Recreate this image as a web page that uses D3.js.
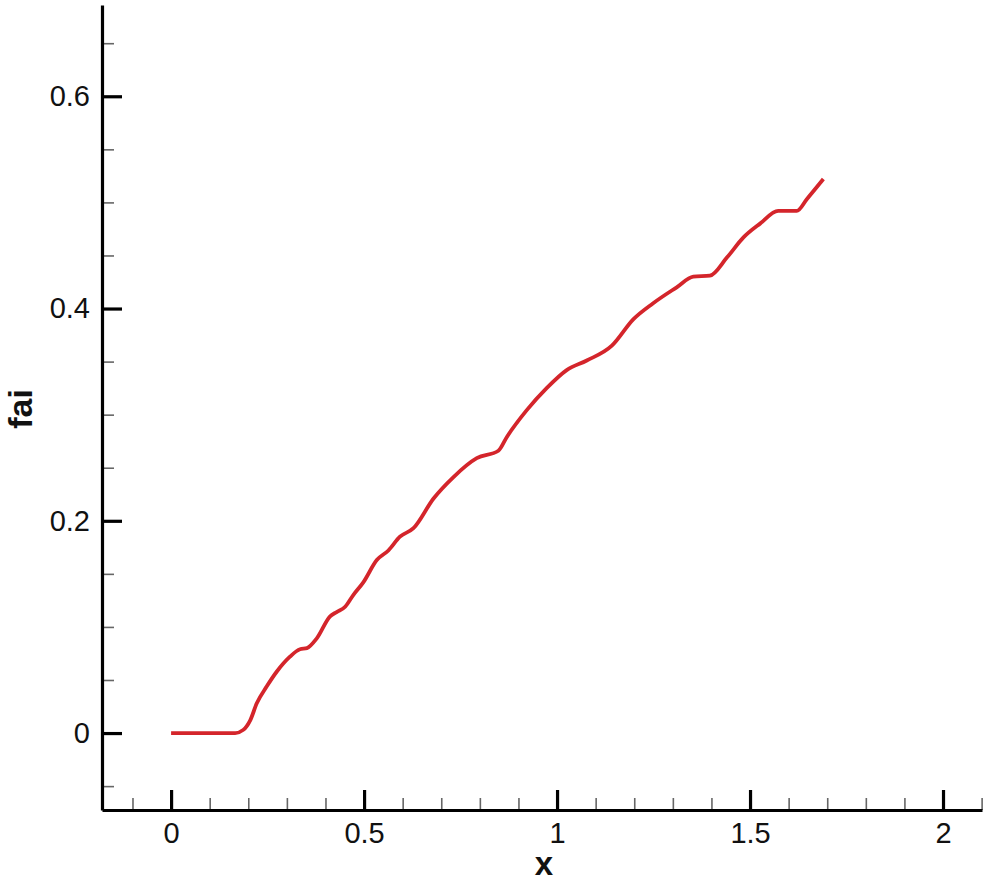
<!DOCTYPE html>
<html>
<head>
<meta charset="utf-8">
<script src="https://cdn.jsdelivr.net/npm/d3@7"></script>
<style>
  body { margin: 0; background: #fff; }
  svg text { font-family: "Liberation Sans", Arial, sans-serif; fill: #111; }
</style>
</head>
<body>
<svg id="chart" width="991" height="883"></svg>
<script>
// fai vs x — single red curve, Tecplot-style axes with inward ticks.

const xValues = [0, 0.166, 0.187, 0.205, 0.222, 0.248, 0.274, 0.308, 0.334, 0.352, 0.377,
  0.412, 0.429, 0.451, 0.472, 0.498, 0.533, 0.563, 0.593, 0.628, 0.680, 0.731, 0.792,
  0.848, 0.870, 0.921, 0.973, 1.025, 1.077, 1.142, 1.198, 1.249, 1.310, 1.353, 1.396,
  1.440, 1.483, 1.526, 1.573, 1.621, 1.647, 1.690];
const faiValues = [0, 0, 0.003, 0.012, 0.028, 0.044, 0.058, 0.072, 0.079, 0.080, 0.089,
  0.110, 0.114, 0.119, 0.130, 0.142, 0.163, 0.172, 0.185, 0.193, 0.221, 0.241, 0.259,
  0.266, 0.279, 0.304, 0.325, 0.342, 0.351, 0.365, 0.390, 0.405, 0.420, 0.430, 0.431,
  0.448, 0.467, 0.480, 0.492, 0.492, 0.503, 0.522];

const xMajor = [0, 0.5, 1, 1.5, 2];
const xMinor = [-0.1, 0.1, 0.2, 0.3, 0.4, 0.6, 0.7, 0.8, 0.9, 1.1, 1.2, 1.3, 1.4,
  1.6, 1.7, 1.8, 1.9, 2.1];
const yMajor = [0, 0.2, 0.4, 0.6];
const yMinor = [-0.05, 0.05, 0.1, 0.15, 0.25, 0.3, 0.35, 0.45, 0.5, 0.55, 0.65];

const svg = d3.select("#chart");
const plotLeft = 102, plotRight = 982, plotTop = 5, plotBottom = 810;

const x = d3.scaleLinear().domain([-0.179, 2.101]).range([plotLeft, plotRight]);
const y = d3.scaleLinear().domain([-0.0725, 0.686]).range([plotBottom, plotTop]);

// minor ticks first, so the heavier majors sit on top
svg.append("g")
  .attr("transform", `translate(0,${plotBottom})`)
  .call(d3.axisBottom(x).tickValues(xMinor).tickSizeInner(-12).tickSizeOuter(0).tickFormat(""))
  .call(g => g.select(".domain").remove())
  .call(g => g.selectAll("line").attr("stroke", "#666").attr("stroke-width", 1.6));

svg.append("g")
  .attr("transform", `translate(${plotLeft},0)`)
  .call(d3.axisLeft(y).tickValues(yMinor).tickSizeInner(-12).tickSizeOuter(0).tickFormat(""))
  .call(g => g.select(".domain").remove())
  .call(g => g.selectAll("line").attr("stroke", "#666").attr("stroke-width", 1.6));

const xAxis = svg.append("g")
  .attr("transform", `translate(0,${plotBottom})`)
  .call(d3.axisBottom(x).tickValues(xMajor).tickSizeInner(-20).tickSizeOuter(0)
    .tickPadding(12).tickFormat(d => String(d)));

const yAxis = svg.append("g")
  .attr("transform", `translate(${plotLeft},0)`)
  .call(d3.axisLeft(y).tickValues(yMajor).tickSizeInner(-20).tickSizeOuter(0)
    .tickPadding(12).tickFormat(d => String(d)));

[xAxis, yAxis].forEach(a => {
  a.select(".domain").attr("stroke", "#000").attr("stroke-width", 3.2);
  a.selectAll(".tick line").attr("stroke", "#000").attr("stroke-width", 3.2);
  a.selectAll(".tick text").attr("font-size", 29).attr("fill", "#111")
    .style("font-family", "'Liberation Sans', Arial, sans-serif");
});

// curve
const pts = xValues.map((v, i) => [v, faiValues[i]]);
svg.append("path")
  .datum(pts)
  .attr("fill", "none")
  .attr("stroke", "#d4252b")
  .attr("stroke-width", 3.8)
  .attr("stroke-linejoin", "round")
  .attr("stroke-linecap", "butt")
  .attr("d", d3.line().x(d => x(d[0])).y(d => y(d[1])).curve(d3.curveMonotoneX));

// axis titles
svg.append("text")
  .attr("x", 544).attr("y", 875)
  .attr("text-anchor", "middle")
  .attr("font-size", 33).attr("font-weight", "bold")
  .text("x");

svg.append("text")
  .attr("transform", "translate(32,409) rotate(-90)")
  .attr("text-anchor", "middle")
  .attr("font-size", 34).attr("font-weight", "bold")
  .text("fai");
</script>
</body>
</html>
